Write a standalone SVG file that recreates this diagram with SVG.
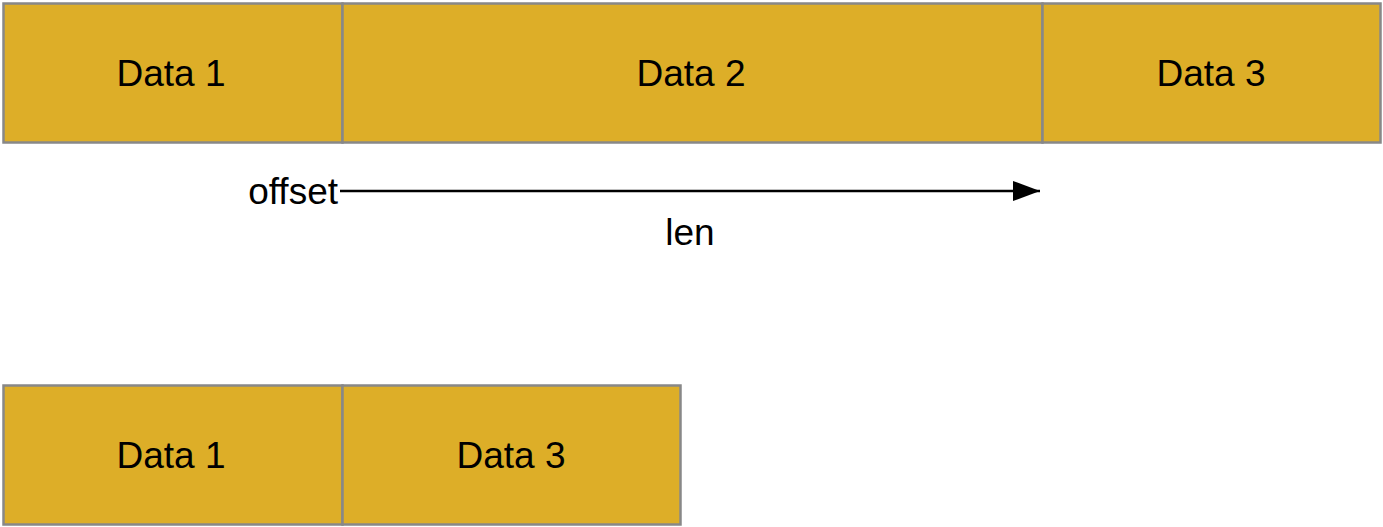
<svg xmlns="http://www.w3.org/2000/svg" width="1383" height="527" viewBox="0 0 1383 527">
<style>
.cell{fill:#DDAE28;stroke:#888888;stroke-width:2.5}
.t{font-family:"Liberation Sans",Arial,sans-serif;font-size:37px;fill:#000}
.c{text-anchor:middle}
</style>
<defs>
<marker id="ah" markerUnits="userSpaceOnUse" markerWidth="28" markerHeight="22" refX="27" refY="11" orient="auto">
<path d="M0,1 L27,11 L0,21 Z" fill="#000"/>
</marker>
</defs>
<rect width="1383" height="527" fill="#fff"/>
<g id="top-data1"><rect class="cell" x="3.5" y="3.5" width="339" height="139"/><text class="t c" x="171" y="86">Data 1</text></g>
<g id="top-data2"><rect class="cell" x="342.5" y="3.5" width="700" height="139"/><text class="t c" x="691" y="86">Data 2</text></g>
<g id="top-data3"><rect class="cell" x="1042.5" y="3.5" width="338" height="139"/><text class="t c" x="1211" y="86">Data 3</text></g>
<g id="bottom-data1"><rect class="cell" x="3.5" y="385.5" width="339" height="139"/><text class="t c" x="171" y="468">Data 1</text></g>
<g id="bottom-data3"><rect class="cell" x="342.5" y="385.5" width="338" height="139"/><text class="t c" x="511" y="468">Data 3</text></g>
<g id="connectors">
<line x1="340" y1="191" x2="1040" y2="191" stroke="#000" stroke-width="2.5" marker-end="url(#ah)"/>
</g>
<text class="t" x="338" y="204" text-anchor="end">offset</text>
<text class="t c" x="690" y="245">len</text>
</svg>
